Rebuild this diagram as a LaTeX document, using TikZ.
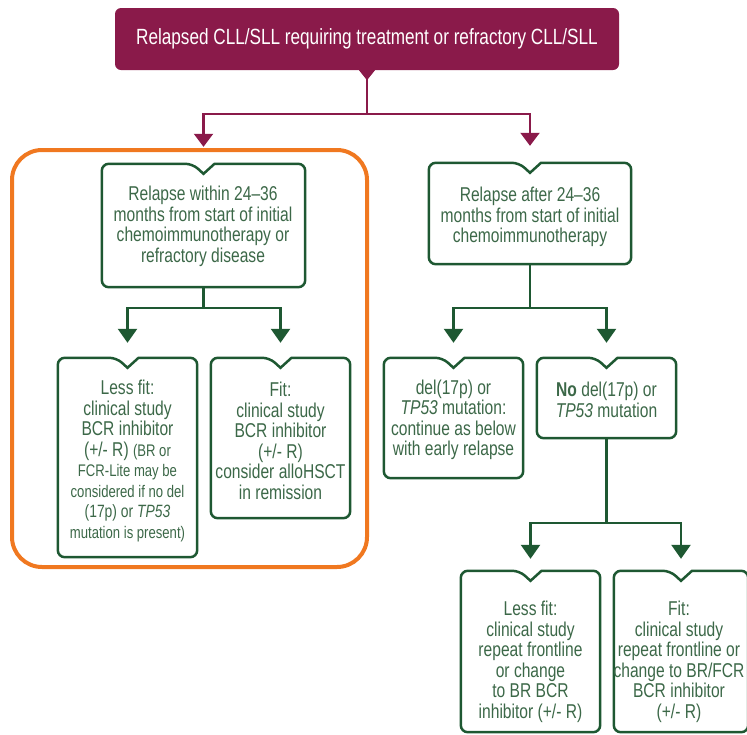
\documentclass[tikz,border=0pt]{standalone}
\usepackage{fontspec}
\setmainfont{Liberation Sans}[FakeStretch=0.78]
\usetikzlibrary{arrows.meta}
\usetikzlibrary{calc}
\usetikzlibrary{positioning}

\definecolor{relapsered}{RGB}{138,26,74}
\definecolor{flowgreen}{RGB}{30,88,50}
\definecolor{textgreen}{RGB}{60,104,72}
\definecolor{fitorange}{RGB}{240,120,32}

\tikzset{
  topbox/.style={fill=relapsered, text=white, rounded corners=6pt, minimum width=504pt, minimum height=62pt, font=\fontsize{22}{24}\selectfont},
  framebox/.style={inner sep=0pt},
  greentext/.style={text=textgreen, align=center, inner sep=0pt, font=\fontsize{20}{20.5}\selectfont},
  greenline/.style={draw=flowgreen, line width=2.5pt},
  greenarrow/.style={draw=flowgreen, line width=2.5pt, -{Triangle[width=19pt,length=14pt]}},
  redarrow/.style={draw=relapsered, line width=2.2pt, -{Triangle[width=19pt,length=13pt]}},
}
\newcommand{\smalltext}{\fontsize{16.8}{20.5}\selectfont}
% outline of a green box with the notch on top
\newcommand{\notchframe}[1]{%
  \draw[greenline] ($(#1.north)+(0,10)$) -- ($(#1.north)+(11,0)$) [rounded corners=7pt]
    -- (#1.north east) -- (#1.south east) -- (#1.south west) -- (#1.north west)
    -- ($(#1.north)+(-11,0)$) [sharp corners] -- cycle;}

\begin{document}
\begin{tikzpicture}[x=1pt,y=-1pt]
  \useasboundingbox (0,0) rectangle (747,734);

  % top box
  \node[topbox] (relapse) at (367,39) {Relapsed CLL/SLL requiring treatment or refractory CLL/SLL};
  \fill[relapsered] ($(relapse.south)+(-8,0)$) -- ($(relapse.south)+(0,10)$) -- ($(relapse.south)+(8,0)$) -- cycle;

  % highlight of the early relapse branch
  \draw[fitorange, line width=4pt, rounded corners=30pt] (12,150) rectangle (367,567);

  % frames
  \node[framebox, minimum width=203pt, minimum height=123pt] (early) at (203.5,225.5) {};
  \node[framebox, minimum width=139pt, minimum height=199pt] (earlyless) at (127.5,457.5) {};
  \node[framebox, minimum width=139pt, minimum height=160pt] (earlyfit) at (280.5,438) {};
  \node[framebox, minimum width=202pt, minimum height=101pt] (late) at (530,213.5) {};
  \node[framebox, minimum width=139pt, minimum height=120pt] (latedel) at (453.5,418) {};
  \node[framebox, minimum width=139pt, minimum height=80pt] (latenodel) at (606.5,398) {};
  \node[framebox, minimum width=139pt, minimum height=161pt] (nodelless) at (530.5,651.5) {};
  \node[framebox, minimum width=134pt, minimum height=161pt] (nodelfit) at (681,651.5) {};
  \foreach \b in {early,earlyless,earlyfit,late,latedel,latenodel,nodelless,nodelfit}
    \notchframe{\b};

  % texts
  \node[greentext] (earlytext) at (203,226.5) {Relapse within 24--36\\months from start of initial\\chemoimmunotherapy or\\refractory disease};
  \node[greentext] (earlylesstext) at (127.5,461) {Less fit:\\clinical study\\BCR inhibitor\\(+/- R) {\smalltext(BR or}\\{\smalltext FCR-Lite may be}\\{\smalltext considered if no del}\\{\fontsize{17.8}{20.5}\selectfont(17p) or \textit{TP53}}\\{\smalltext mutation is present)}};
  \node[greentext] (earlyfittext) at (280.5,441) {Fit:\\clinical study\\BCR inhibitor\\(+/- R)\\consider alloHSCT\\in remission};
  \node[greentext] (latetext) at (530,217) {Relapse after 24--36\\months from start of initial\\chemoimmunotherapy};
  \node[greentext] (latedeltext) at (453.5,420) {del(17p) or\\\textit{TP53} mutation:\\continue as below\\with early relapse};
  \node[greentext] (latenodeltext) at (606.5,400) {\textbf{No} del(17p) or\\\textit{TP53} mutation};
  \node[greentext] (nodellesstext) at (530.5,662) {Less fit:\\clinical study\\repeat frontline\\or change\\to BR BCR\\inhibitor (+/- R)};
  \node[greentext] (nodelfittext) at (679,662) {Fit:\\clinical study\\repeat frontline or\\change to BR/FCR\\BCR inhibitor\\(+/- R)};

  % arrows
  \coordinate (topsplit) at (367,114);
  \draw[redarrow, shorten >=17pt] (relapse.south) -- (topsplit) -| (early.north);
  \draw[redarrow, shorten >=17pt] (topsplit) -| (late.north);

  \coordinate (earlysplit) at (203.5,308);
  \draw[greenarrow, shorten >=15pt] (early.south) -- (earlysplit) -| (earlyless.north);
  \draw[greenarrow, shorten >=15pt] (earlysplit) -| (earlyfit.north);

  \coordinate (latesplit) at (530,308);
  \draw[greenarrow, shorten >=15pt] (late.south) -- (latesplit) -| (latedel.north);
  \draw[greenarrow, shorten >=15pt] (latesplit) -| (latenodel.north);

  \coordinate (nodelsplit) at (606.5,523);
  \draw[greenarrow, shorten >=12pt] (latenodel.south) -- (nodelsplit) -| (nodelless.north);
  \draw[greenarrow, shorten >=12pt] (nodelsplit) -| (nodelfit.north);

\end{tikzpicture}
\end{document}
